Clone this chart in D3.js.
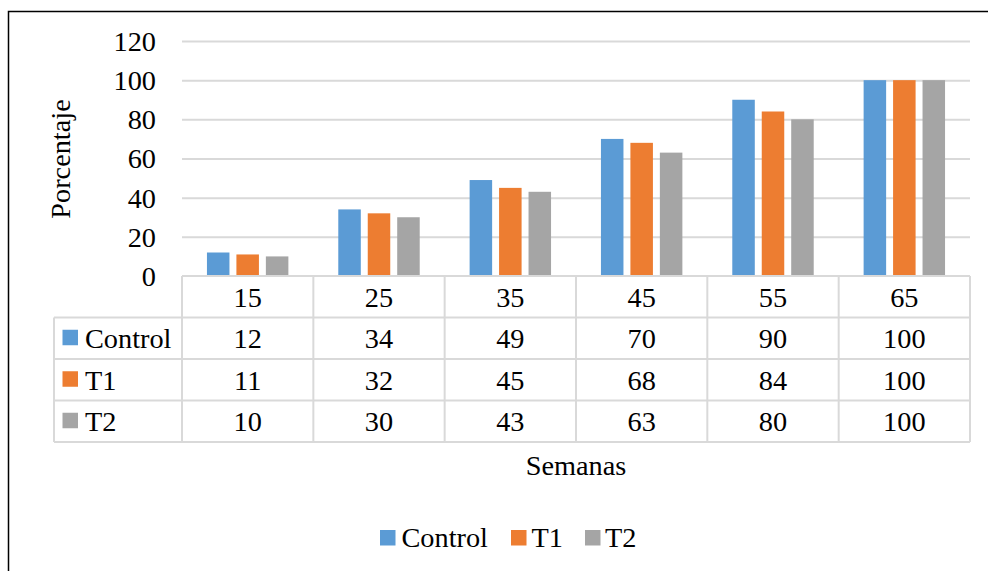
<!DOCTYPE html>
<html><head><meta charset="utf-8">
<script src="https://cdn.jsdelivr.net/npm/d3@7"></script>
<style>
html,body{margin:0;padding:0;background:#fff;}
svg{display:block;}
svg text{font-family:"Liberation Serif","Times New Roman","DejaVu Serif",serif !important;fill:#000;}
</style></head>
<body>
<svg id="chart" width="988" height="571" font-family="Liberation Serif, serif"></svg>
<script>
const categories = ["15","25","35","45","55","65"];
const seriesNames = ["Control","T1","T2"];
const control = [12,34,49,70,90,100];
const t1 = [11,32,45,68,84,100];
const t2 = [10,30,43,63,80,100];
const yTicks = [0,20,40,60,80,100,120];
const colors = ["#5b9bd5","#ed7d31","#a5a5a5"];
const seriesValues = [control, t1, t2];

(function(){
const svg = d3.select("#chart");
const FS = 28.3;
const FF = "'Liberation Serif', 'Times New Roman', serif";
const gridColor = "#d9d9d9";

svg.append("rect").attr("x",8.5).attr("y",11.5).attr("width",990).attr("height",600)
  .attr("fill","none").attr("stroke","#000").attr("stroke-width",1.5);

const pLeft = 182, pRight = 970, pTop = 41, pBottom = 276;
const x = d3.scaleBand().domain(categories).range([pLeft,pRight]).padding(0);
const y = d3.scaleLinear().domain([0,120]).range([pBottom,pTop]);
const bw = x.bandwidth();
const x1 = d3.scaleBand().domain(seriesNames).range([bw*0.19, bw*0.81]).paddingInner(0.236).paddingOuter(0);
const color = d3.scaleOrdinal().domain(seriesNames).range(colors);

const yAxis = d3.axisLeft(y).tickValues(yTicks).tickSize(-(pRight-pLeft)).tickPadding(26);
const gy = svg.append("g").attr("transform",`translate(${pLeft},0)`).call(yAxis)
  .attr("font-family",FF);
gy.select(".domain").remove();
gy.selectAll(".tick line").attr("stroke",gridColor).attr("stroke-width",2);
gy.selectAll(".tick text").attr("font-size",FS).attr("fill","#000").attr("dy","0.33em");
gy.selectAll(".tick").filter(d=>d===0).select("line").remove();

const data = categories.map((c,i)=>({cat:c, vals: seriesNames.map((s,j)=>({s, v: seriesValues[j][i]}))}));
const groups = svg.append("g").selectAll("g").data(data).join("g")
  .attr("transform",d=>`translate(${x(d.cat)},0)`);
groups.selectAll("rect").data(d=>d.vals).join("rect")
  .attr("x",d=>x1(d.s)).attr("width",x1.bandwidth())
  .attr("y",d=>y(d.v)).attr("height",d=>y(0)-y(d.v))
  .attr("fill",d=>color(d.s));

const rowH = 41.5;
const tableLeft = 54;
const tg = svg.append("g");
const nRows = 4;
const tBottom = pBottom + rowH*nRows;
tg.append("line").attr("x1",pLeft).attr("x2",pRight).attr("y1",pBottom).attr("y2",pBottom);
for(let r=1;r<=nRows;r++){
  tg.append("line").attr("x1",tableLeft).attr("x2",pRight).attr("y1",pBottom+rowH*r).attr("y2",pBottom+rowH*r);
}
tg.append("line").attr("x1",tableLeft).attr("x2",tableLeft).attr("y1",pBottom+rowH).attr("y2",tBottom);
categories.forEach(c=>{
  tg.append("line").attr("x1",x(c)).attr("x2",x(c)).attr("y1",pBottom).attr("y2",tBottom);
});
tg.append("line").attr("x1",pRight).attr("x2",pRight).attr("y1",pBottom).attr("y2",tBottom);
tg.selectAll("line").attr("stroke",gridColor).attr("stroke-width",2);

categories.forEach(c=>{
  tg.append("text").attr("x",x(c)+bw/2).attr("y",pBottom+rowH/2).attr("dy","0.35em")
    .attr("text-anchor","middle").attr("font-size",FS).text(c);
});
seriesNames.forEach((s,j)=>{
  const cy = pBottom + rowH*(j+1) + rowH/2;
  tg.append("rect").attr("x",62.5).attr("y",cy-8.5).attr("width",15.5).attr("height",15.5).attr("fill",colors[j]);
  tg.append("text").attr("x",85).attr("y",cy).attr("dy","0.35em").attr("font-size",FS).text(s);
  categories.forEach((c,i)=>{
    tg.append("text").attr("x",x(c)+bw/2).attr("y",cy).attr("dy","0.35em")
      .attr("text-anchor","middle").attr("font-size",FS).text(seriesValues[j][i]);
  });
});

svg.append("text").attr("transform","translate(70,159) rotate(-90)").attr("text-anchor","middle")
  .attr("font-size",FS).text("Porcentaje");
svg.append("text").attr("x",(pLeft+pRight)/2).attr("y",475).attr("text-anchor","middle")
  .attr("font-size",FS).text("Semanas");

const legendItems = [{s:"Control",kx:380,tx:401.5},{s:"T1",kx:511,tx:531.5},{s:"T2",kx:585,tx:605}];
const lg = svg.append("g");
legendItems.forEach((it,j)=>{
  lg.append("rect").attr("x",it.kx).attr("y",530).attr("width",15.5).attr("height",15.5).attr("fill",colors[j]);
  lg.append("text").attr("x",it.tx).attr("y",546.5).attr("font-size",FS).text(it.s);
});
svg.selectAll("text").style("font-family",FF);
})();
</script>
</body></html>
